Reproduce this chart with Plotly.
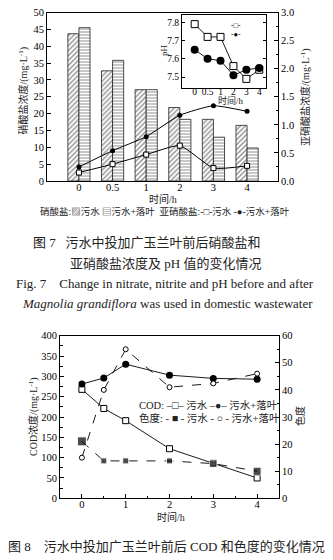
import plotly.graph_objects as go

# ---------------- Figure 7 data ----------------
time_cats = ["0", "0.5", "1", "2", "3", "4"]
nitrate_ww = [43.7, 32.7, 27.1, 21.8, 18.3, 16.5]
nitrate_ww_leaf = [45.5, 35.8, 27.1, 18.3, 13.0, 9.8]
nitrite_ww = [0.15, 0.30, 0.47, 0.63, 0.23, 0.27]
nitrite_ww_leaf = [0.25, 0.54, 0.79, 1.17, 1.34, 1.24]
ph_ww = [7.79, 7.72, 7.72, 7.56, 7.49, 7.54]
ph_ww_leaf = [7.65, 7.60, 7.59, 7.51, 7.54, 7.55]
ph_ticks = [7.5, 7.6, 7.7, 7.8]

# ---------------- Figure 8 data ----------------
time_h = [0, 0.5, 1, 2, 3, 4]
cod_ww = [268, 221, 191, 122, 86, 50]
cod_ww_leaf = [281, 296, 330, 303, 295, 293]
color_ww = [21.0, 13.8, 13.8, 13.8, 12.8, 10.0]
color_ww_leaf = [15.0, 40.0, 55.0, 41.0, 42.4, 46.0]

FONT = "Liberation Serif, Noto Sans CJK SC, DejaVu Sans"
W, H = 333, 560


def px(x):
    return x / W


def py(y):
    return 1 - y / H


fig = go.Figure()

# Nitrate bars
fig.add_bar(x=time_cats, y=nitrate_ww, name="污水", xaxis="x", yaxis="y",
            marker=dict(color="white", line=dict(color="#222", width=0.8),
                        pattern=dict(shape="/", fgcolor="#222", bgcolor="white",
                                     size=3.5, solidity=0.4)),
            showlegend=False)
fig.add_bar(x=time_cats, y=nitrate_ww_leaf, name="污水+落叶", xaxis="x", yaxis="y",
            marker=dict(color="white", line=dict(color="#222", width=0.8),
                        pattern=dict(shape="-", fgcolor="#222", bgcolor="white",
                                     size=3, solidity=0.35)),
            showlegend=False)
# Nitrite lines
fig.add_scatter(x=time_cats, y=nitrite_ww, xaxis="x", yaxis="y2", mode="lines+markers",
                line=dict(color="black", width=1, shape="spline", smoothing=0.5),
                marker=dict(symbol="square", size=5, color="white",
                            line=dict(color="black", width=1)),
                showlegend=False)
fig.add_scatter(x=time_cats, y=nitrite_ww_leaf, xaxis="x", yaxis="y2", mode="lines+markers",
                line=dict(color="black", width=1, shape="spline", smoothing=0.5),
                marker=dict(symbol="circle", size=5, color="black"),
                showlegend=False)
# pH inset
fig.add_scatter(x=time_cats, y=ph_ww, xaxis="x2", yaxis="y3", mode="lines+markers",
                line=dict(color="black", width=0.9),
                marker=dict(symbol="square", size=7, color="white",
                            line=dict(color="black", width=1)),
                showlegend=False)
fig.add_scatter(x=time_cats, y=ph_ww_leaf, xaxis="x2", yaxis="y3", mode="lines+markers",
                line=dict(color="black", width=0.9),
                marker=dict(symbol="circle", size=8, color="black"),
                showlegend=False)

# Figure 8
fig.add_scatter(x=time_h, y=cod_ww, xaxis="x3", yaxis="y4", mode="lines+markers",
                line=dict(color="black", width=0.9),
                marker=dict(symbol="square", size=6, color="white",
                            line=dict(color="black", width=1)),
                showlegend=False)
fig.add_scatter(x=time_h, y=cod_ww_leaf, xaxis="x3", yaxis="y4", mode="lines+markers",
                line=dict(color="black", width=0.9),
                marker=dict(symbol="circle", size=7, color="black"),
                showlegend=False)
fig.add_scatter(x=time_h, y=color_ww, xaxis="x3", yaxis="y5", mode="lines+markers",
                line=dict(color="black", width=0.9, dash="dash"),
                marker=dict(symbol="square", size=[9, 6, 6, 6, 7, 8], color="black"),
                showlegend=False)
fig.add_scatter(x=time_h, y=color_ww_leaf, xaxis="x3", yaxis="y5", mode="lines+markers",
                line=dict(color="black", width=0.9, dash="dash"),
                marker=dict(symbol="circle", size=5, color="white",
                            line=dict(color="black", width=1)),
                showlegend=False)

axis_common = dict(showline=True, linecolor="black", linewidth=1, showgrid=False,
                   zeroline=False, automargin=False)
tickf = dict(family=FONT, size=10.5, color="black")

fig.update_layout(
    width=W, height=H, margin=dict(l=0, r=0, t=0, b=0),
    paper_bgcolor="white", plot_bgcolor="white",
    font=dict(family=FONT, color="black"),
    barmode="group", bargap=0.34, bargroupgap=0,
    xaxis=dict(**axis_common, domain=[px(47), px(278)], anchor="y", type="category",
               categoryorder="array", categoryarray=time_cats, range=[-0.95, 5.92],
               mirror=True, ticks="", tickfont=tickf, ticklabelstandoff=-4),
    yaxis=dict(**axis_common, domain=[py(181), py(12.5)], anchor="x", range=[0, 50],
               dtick=5, ticks="inside", ticklen=4, tickcolor="black", tickfont=tickf,
               ticklabelstandoff=0),
    yaxis2=dict(**axis_common, overlaying="y", side="right", anchor="x", range=[0, 3],
                dtick=0.5, tickformat=".1f", ticks="inside", ticklen=4, tickcolor="black",
                minor=dict(dtick=0.25, ticks="inside", ticklen=2, tickcolor="black"),
                tickfont=tickf, ticklabelstandoff=0),
    xaxis2=dict(**axis_common, domain=[px(182), px(266)], anchor="y3", type="category",
                categoryorder="array", categoryarray=time_cats, range=[-0.98, 5.52],
                mirror=True, ticks="", tickfont=dict(family=FONT, size=9.5, color="black"),
                ticklabelstandoff=-5),
    yaxis3=dict(**axis_common, domain=[py(88), py(15)], anchor="x2", range=[7.44, 7.84],
                tickvals=ph_ticks, tickformat=".1f", ticks="inside", ticklen=3,
                tickcolor="black", mirror="ticks",
                tickfont=dict(family=FONT, size=9.5, color="black"), ticklabelstandoff=0),
    xaxis3=dict(**axis_common, domain=[px(60), px(279)], anchor="y4", range=[-0.5, 4.5],
                dtick=1, tick0=0, ticks="inside", ticklen=4, tickcolor="black", mirror=True,
                minor=dict(dtick=0.5, ticks="inside", ticklen=2.5, tickcolor="black"),
                tickfont=tickf, ticklabelstandoff=-4),
    yaxis4=dict(**axis_common, domain=[py(498.3), py(335.7)], anchor="x3", range=[0, 400],
                dtick=50, ticks="inside", ticklen=4, tickcolor="black",
                minor=dict(dtick=25, ticks="inside", ticklen=2.5, tickcolor="black"),
                tickfont=tickf, ticklabelstandoff=0),
    yaxis5=dict(**axis_common, overlaying="y4", side="right", anchor="x3", range=[0, 60],
                dtick=10, ticks="inside", ticklen=4, tickcolor="black",
                minor=dict(dtick=5, ticks="inside", ticklen=2.5, tickcolor="black"),
                tickfont=tickf, ticklabelstandoff=0),
)


def label(x, y, text, size=10, angle=0, xanchor="center", color="#222", align="center"):
    return dict(x=px(x), y=py(y), xref="paper", yref="paper", showarrow=False,
                xanchor=xanchor, yanchor="middle", text=text, textangle=angle,
                align=align, font=dict(family=FONT, size=size, color=color))


ann = [
    # axis titles, figure 7
    label(23, 90.5, "硝酸盐浓度/(mg·L<sup>-1</sup>)", 10, -90),
    label(305, 97, "亚硝酸盐浓度/(mg·L<sup>-1</sup>)", 10, -90),
    label(162.5, 199, "时间/h", 10),
    label(231, 100, "时间/h", 9),
    label(164, 50, "pH", 9, -90),
    # axis titles, figure 8
    label(33, 417, "COD浓度/(mg·L<sup>-1</sup>)", 10, -90),
    label(299.5, 416.5, "色度", 10, -90),
    label(171, 516.5, "时间/h", 10),
    # legends
    label(164.5, 211, "硝酸盐:▨污水 ▤污水+落叶  亚硝酸盐:-□-污水 -●-污水+落叶", 9.5),
    label(236, 25.5, "-□-", 7.5, color="black"),
    label(236, 34.5, "-●-", 7.5, color="black"),
    label(137, 405, "COD: –□– 污水 –●– 污水+落叶", 10.5, xanchor="left", align="left"),
    label(137, 418, "色度: - ■ - 污水 - ○ - 污水+落叶", 10.5, xanchor="left", align="left"),
    # captions
    label(263, 242, "图 7   污水中投加广玉兰叶前后硝酸盐和", 13, xanchor="right"),
    label(165, 263, "亚硝酸盐浓度及 pH 值的变化情况", 13),
    label(165, 283, "Fig. 7    Change in nitrate, nitrite and pH before and after", 13),
    label(167, 303, "<i>Magnolia grandiflora</i> was used in domestic wastewater", 13),
    label(166, 546, "图 8    污水中投加广玉兰叶前后 COD 和色度的变化情况", 13),
]
fig.update_layout(annotations=ann)

fig.write_html("out.html")
